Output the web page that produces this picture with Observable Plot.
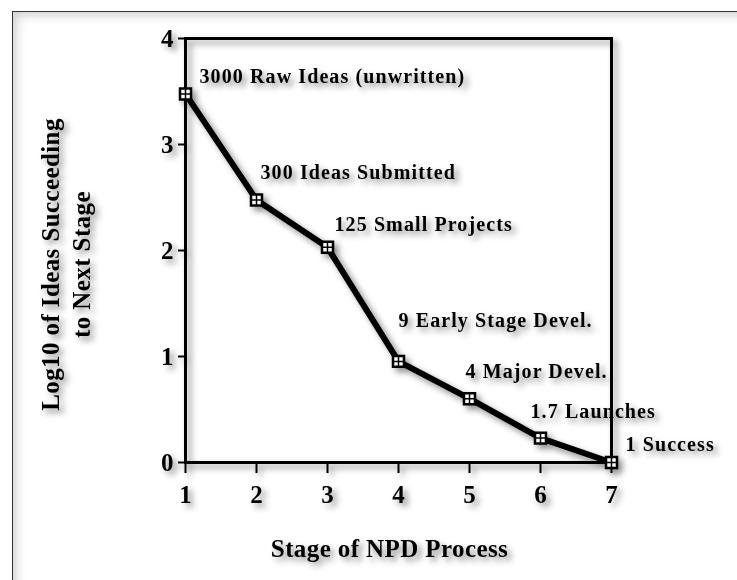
<!DOCTYPE html>
<html>
<head>
<meta charset="utf-8">
<script src="https://cdn.jsdelivr.net/npm/d3@7"></script>
<script src="https://cdn.jsdelivr.net/npm/@observablehq/plot@0.6"></script>
<style>
  html, body { margin: 0; padding: 0; background: #fff; width: 737px; height: 580px; overflow: hidden; }
  #wrap { position: relative; width: 737px; height: 580px; }
  #border { position: absolute; left: 12px; top: 11px; width: 800px; height: 700px;
            border: 1.5px solid #333; box-shadow: inset 4px 4px 10px rgba(0,0,0,0.18);
            pointer-events: none; z-index: 2; }
  #chart { position: absolute; left: 0; top: 0; z-index: 1; }
  #chart svg { filter: drop-shadow(4px 4px 3px rgba(0,0,0,0.45)); }
  #chart text[aria-label="stage-label"] { letter-spacing: 1.1px; }
  #chart text[aria-label="axis-title"] { letter-spacing: 0.4px; }
</style>
</head>
<body>
<div id="wrap"><div id="border"></div><div id="chart"></div></div>
<script>
// Data
const stages = [1, 2, 3, 4, 5, 6, 7];
const log10Values = [3.477, 2.477, 2.03, 0.954, 0.602, 0.230, 0];
const stageLabels = [
  "3000 Raw Ideas (unwritten)",
  "300 Ideas Submitted",
  "125 Small Projects",
  "9 Early Stage Devel.",
  "4 Major Devel.",
  "1.7 Launches",
  "1 Success"
];
const xTicks = [1, 2, 3, 4, 5, 6, 7];
const yTicks = [0, 1, 2, 3, 4];
const xTitle = "Stage of NPD Process";
const yTitle = "Log10 of Ideas Succeeding\nto Next Stage";

const rows = stages.map((s, i) => ({stage: s, value: log10Values[i], label: stageLabels[i]}));

// label placement offsets (layout only)
const offsets = [[14, -17], [4, -27], [7, -23], [0, -41], [-4, -27], [-10, -27], [14, -18]];

const crossSymbol = {
  draw(ctx, size) {
    const r = Math.sqrt(size) / 2;
    ctx.moveTo(-r, 0); ctx.lineTo(r, 0);
    ctx.moveTo(0, -r); ctx.lineTo(0, r);
  }
};

const font = "'Liberation Serif', 'Times New Roman', serif";

const chart = Plot.plot({
  width: 737,
  height: 580,
  marginLeft: 185,
  marginRight: 126,
  marginTop: 38,
  marginBottom: 118,
  style: {fontFamily: font, fontWeight: "bold", background: "transparent", color: "#000"},
  x: {domain: [1, 7], label: null},
  y: {domain: [0, 4], label: null},
  marks: [
    Plot.axisY({ticks: yTicks, tickSize: 7, tickPadding: 5, fontSize: 25, fontWeight: "bold",
                strokeWidth: 2, tickFormat: d => String(d), label: null}),
    Plot.axisX({ticks: xTicks, tickSize: 11, tickPadding: 12, fontSize: 25, fontWeight: "bold",
                strokeWidth: 2, tickFormat: d => String(d), label: null}),
    Plot.frame({stroke: "#000", strokeWidth: 3}),
    Plot.line(rows, {x: "stage", y: "value", stroke: "#000", strokeWidth: 6, strokeLinejoin: "miter"}),
    Plot.dot(rows, {x: "stage", y: "value", symbol: "square", r: 6.2, fill: "#fff", stroke: "#000", strokeWidth: 2.5}),
    Plot.dot(rows, {x: "stage", y: "value", symbol: crossSymbol, r: 6.2, fill: "none", stroke: "#000", strokeWidth: 1.5}),
    ...rows.map((d, i) => Plot.text([d], {
      x: "stage", y: "value", text: "label", textAnchor: "start", ariaLabel: () => "stage-label",
      dx: offsets[i][0], dy: offsets[i][1], fontSize: 20, fontWeight: "bold", fill: "#000"
    })),
    Plot.text([xTitle], {frameAnchor: "bottom", textAnchor: "middle", dx: -9, dy: 94, fontSize: 25,
                         fontWeight: "bold", fill: "#000", ariaLabel: () => "axis-title"}),
    Plot.text([yTitle], {frameAnchor: "left", textAnchor: "middle", lineAnchor: "middle", rotate: -90,
                         dx: -121, dy: 14, fontSize: 25, fontWeight: "bold", lineHeight: 1.25,
                         fill: "#000", ariaLabel: () => "axis-title"})
  ]
});
document.getElementById("chart").appendChild(chart);
</script>
</body>
</html>
